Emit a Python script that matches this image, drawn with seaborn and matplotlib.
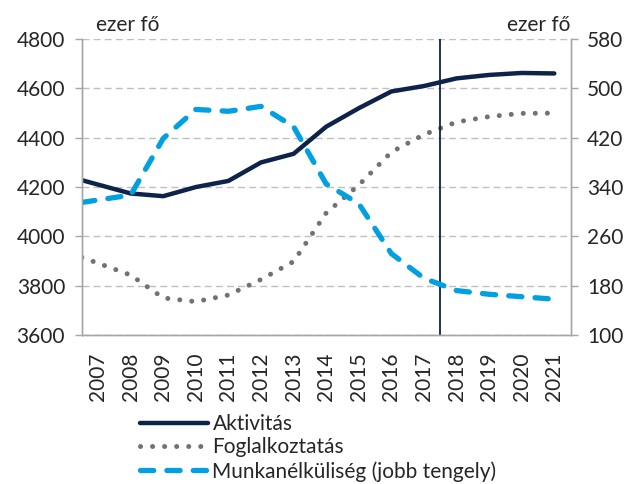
import numpy as np
import pandas as pd
import matplotlib
matplotlib.use("Agg")
import matplotlib.pyplot as plt
import seaborn as sns

evek = ['2007', '2008', '2009', '2010', '2011', '2012', '2013', '2014',
        '2015', '2016', '2017', '2018', '2019', '2020', '2021']
aktivitas = [4228, 4174, 4163, 4200, 4225, 4300, 4335, 4445,
             4520, 4588, 4610, 4641, 4655, 4663, 4661]
foglalkoztatas = [3915, 3843, 3750, 3735, 3762, 3825, 3898, 4095,
                  4208, 4342, 4413, 4464, 4486, 4499, 4500]
munkanelkuliseg = [315, 327, 419, 466, 463, 471, 438, 345,
                   313, 232, 192, 172, 166, 162, 158]

sns.set_style("white")
plt.rcParams['font.family'] = ['Lato', 'DejaVu Sans']
betu = 15

# az első pont a tengely bal szélén indul
pozicio = np.arange(len(evek), dtype=float)
pozicio[0] = -0.5
df = pd.DataFrame({'x': pozicio, 'akt': aktivitas, 'fogl': foglalkoztatas,
                   'munk': munkanelkuliseg})

sotetkek = '#0e2349'
szurke = '#767171'
vilagoskek = '#00a0e2'
racs = '#bfbfbf'

fig = plt.figure(figsize=(6.34, 4.84), dpi=100)
ax = fig.add_axes([0.129, 0.308, 0.771, 0.611])
ax2 = ax.twinx()

sns.lineplot(data=df, x='x', y='akt', ax=ax, color=sotetkek, linewidth=3.2,
             solid_capstyle='round', label='Aktivitás', legend=False)
sns.lineplot(data=df, x='x', y='fogl', ax=ax, color=szurke, linewidth=3.6,
             linestyle=(0, (0.01, 2.4)), dash_capstyle='round',
             label='Foglalkoztatás', legend=False)
sns.lineplot(data=df, x='x', y='munk', ax=ax2, color=vilagoskek, linewidth=3.8,
             linestyle=(0, (2.5, 2.5)), dash_capstyle='round',
             label='Munkanélküliség (jobb tengely)', legend=False)

ax.set_xlim(-0.5, 14.5)
ax.set_ylim(3600, 4800)
ax2.set_ylim(100, 580)
ax.set_yticks(np.arange(3600, 4801, 200))
ax2.set_yticks(np.arange(100, 581, 80))
ax.set_xticks(np.arange(len(evek)))
ax.set_xticklabels(evek, rotation=90)
ax.set_xticks(np.arange(-0.5, 14.6, 1), minor=True)
ax.tick_params(axis='x', which='major', length=0, pad=13, labelsize=betu)
ax.tick_params(axis='x', which='minor', length=5, color='#a6a6a6', width=1)
ax.tick_params(axis='y', length=5, color='#a6a6a6', width=1, labelsize=betu, pad=7)
ax2.tick_params(axis='y', length=5, color='#a6a6a6', width=1, labelsize=betu, pad=7)
ax.set_xlabel('')
ax.set_ylabel('')
ax2.set_ylabel('')

ax.yaxis.grid(True, color=racs, linestyle=(0, (5, 3)), linewidth=1)
ax.set_axisbelow(True)
ax.axvline(10.5, color=sotetkek, linewidth=1.3)

for a in (ax, ax2):
    a.spines['top'].set_visible(False)
    for s in ('left', 'right', 'bottom'):
        a.spines[s].set_color('#a6a6a6')
        a.spines[s].set_linewidth(1)

ax.text(0.03, 1.015, 'ezer fő', transform=ax.transAxes, fontsize=betu,
        ha='left', va='bottom')
ax2.text(1.0, 1.015, 'ezer fő', transform=ax2.transAxes, fontsize=betu,
         ha='right', va='bottom')

kezelok = ax.get_lines()[:2] + ax2.get_lines()[:1]
fig.legend(kezelok, [k.get_label() for k in kezelok], loc='upper left',
           bbox_to_anchor=(0.207, 0.162), frameon=False, fontsize=betu,
           handlelength=3.3, handletextpad=0.2, labelspacing=0.17,
           borderaxespad=0)

fig.savefig('out.png', dpi=100)
